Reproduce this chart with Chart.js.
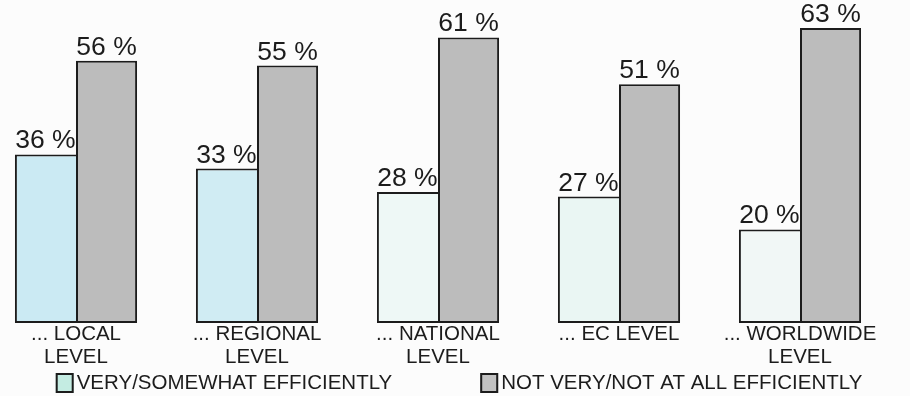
<!DOCTYPE html>
<html>
<head>
<meta charset="utf-8">
<script src="https://cdn.jsdelivr.net/npm/chart.js@4/dist/chart.umd.min.js"></script>
<style>
  html, body { margin: 0; padding: 0; background: #fcfcfc; overflow: hidden; }
  #wrap { width: 910px; height: 396px; position: relative; }
</style>
</head>
<body>
<div id="wrap"><canvas id="chart"></canvas></div>
<script>
// Categories (multi-line tick labels)
const categories = [
  ['... LOCAL', 'LEVEL'],
  ['... REGIONAL', 'LEVEL'],
  ['... NATIONAL', 'LEVEL'],
  ['... EC LEVEL'],
  ['... WORLDWIDE', 'LEVEL']
];
// Series names
const seriesNames = ['VERY/SOMEWHAT EFFICIENTLY', 'NOT VERY/NOT AT ALL EFFICIENTLY'];
// Percent values
const efficientValues = [36, 33, 28, 27, 20];
const notEfficientValues = [56, 55, 61, 51, 63];

// Styling
const FONT = '"Liberation Sans", Arial, Helvetica, sans-serif';
const INK = '#1c1c1c';
const lightFills = ['#cbeaf3', '#d0ecf3', '#eef8f6', '#eaf6f3', '#f1f7f6'];
const grayFill = '#bcbcbc';
const legendSwatch = ['#c4ece2', '#c2c2c2'];

// Percentage labels centred above each bar
const valueLabels = {
  id: 'valueLabels',
  afterDatasetsDraw(chart) {
    const ctx = chart.ctx;
    ctx.save();
    ctx.font = '26.5px ' + FONT;
    ctx.fillStyle = INK;
    ctx.textAlign = 'center';
    ctx.textBaseline = 'alphabetic';
    chart.data.datasets.forEach((ds, di) => {
      chart.getDatasetMeta(di).data.forEach((bar, i) => {
        ctx.fillText(ds.data[i] + ' %', bar.x, bar.y - 6);
      });
    });
    ctx.restore();
  }
};

// Legend row along the bottom edge
const boxLegend = {
  id: 'boxLegend',
  afterDraw(chart) {
    const ctx = chart.ctx;
    const size = 20.5;
    const boxW = 18, boxH = 20, textGap = 3, itemGap = 88;
    ctx.save();
    ctx.font = size + 'px ' + FONT;
    const items = chart.data.datasets.map((ds, i) => ({
      text: ds.label,
      fill: legendSwatch[i],
      w: ctx.measureText(ds.label).width
    }));
    const total = items.reduce((s, it) => s + boxW + textGap + it.w, 0) + itemGap * (items.length - 1);
    let x = (chart.width - total) / 2 + 4;
    const top = chart.height - 23;
    ctx.textBaseline = 'middle';
    ctx.textAlign = 'left';
    items.forEach(it => {
      ctx.fillStyle = it.fill;
      ctx.fillRect(x, top, boxW, boxH);
      ctx.lineWidth = 2;
      ctx.strokeStyle = INK;
      ctx.strokeRect(x + 1, top + 1, boxW - 2, boxH - 2);
      ctx.fillStyle = INK;
      ctx.fillText(it.text, x + boxW + textGap, top + boxH / 2);
      x += boxW + textGap + it.w + itemGap;
    });
    ctx.restore();
  }
};

new Chart(document.getElementById('chart'), {
  type: 'bar',
  data: {
    labels: categories,
    datasets: [
      {
        label: seriesNames[0],
        data: efficientValues,
        backgroundColor: lightFills,
        borderColor: INK,
        borderWidth: { top: 2, left: 2, bottom: 2, right: 0 },
        borderSkipped: false,
        clip: false
      },
      {
        label: seriesNames[1],
        data: notEfficientValues,
        backgroundColor: grayFill,
        borderColor: INK,
        borderWidth: 2,
        borderSkipped: false,
        clip: false
      }
    ]
  },
  options: {
    responsive: true,
    maintainAspectRatio: false,
    animation: false,
    events: [],
    layout: { padding: { left: 76, right: 110, top: 0, bottom: 27 } },
    categoryPercentage: 0.675,
    barPercentage: 1.0,
    plugins: {
      legend: { display: false },
      tooltip: { enabled: false }
    },
    scales: {
      x: {
        offset: false,
        grid: { display: false, drawTicks: false },
        border: { display: false },
        ticks: {
          padding: 0,
          autoSkip: false,
          maxRotation: 0,
          color: INK,
          font: { family: FONT, size: 20.5, lineHeight: '23px' }
        }
      },
      y: {
        display: false,
        min: 0,
        max: 69
      }
    }
  },
  plugins: [valueLabels, boxLegend]
});
</script>
</body>
</html>
